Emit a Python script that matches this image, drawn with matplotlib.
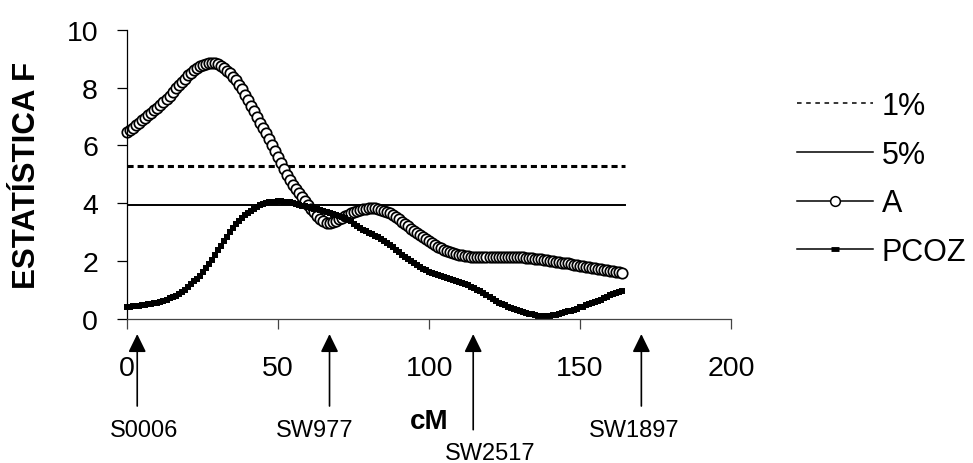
import numpy as np
import matplotlib
matplotlib.use("Agg")
import matplotlib.pyplot as plt
import matplotlib.transforms as mtransforms
from matplotlib.lines import Line2D

plt.rcParams['font.family'] = ['Liberation Sans', 'DejaVu Sans']

# position along the chromosome (cM), one point per cM
cm = list(range(0, 165))

# F statistic, trait A
a_vals = [6.45, 6.52, 6.60, 6.69, 6.78, 6.87, 6.96, 7.05, 7.13, 7.21,
          7.30, 7.40, 7.50, 7.61, 7.72, 7.84, 7.97, 8.09, 8.20, 8.31,
          8.42, 8.52, 8.60, 8.67, 8.73, 8.79, 8.83, 8.85, 8.86, 8.84,
          8.80, 8.74, 8.67, 8.59, 8.50, 8.38, 8.25, 8.10, 7.94, 7.76,
          7.58, 7.38, 7.18, 6.98, 6.78, 6.60, 6.42, 6.22, 6.02, 5.81,
          5.60, 5.39, 5.18, 4.98, 4.80, 4.64, 4.50, 4.36, 4.22, 4.08,
          3.95, 3.82, 3.70, 3.57, 3.45, 3.38, 3.33, 3.32, 3.35, 3.40,
          3.45, 3.50, 3.55, 3.61, 3.66, 3.71, 3.75, 3.78, 3.80, 3.82,
          3.84, 3.85, 3.84, 3.82, 3.78, 3.74, 3.70, 3.65, 3.60, 3.53,
          3.45, 3.37, 3.28, 3.20, 3.12, 3.05, 2.98, 2.91, 2.84, 2.77,
          2.70, 2.63, 2.56, 2.50, 2.45, 2.40, 2.36, 2.32, 2.28, 2.25,
          2.22, 2.20, 2.18, 2.17, 2.16, 2.15, 2.15, 2.15, 2.15, 2.15,
          2.15, 2.15, 2.15, 2.15, 2.15, 2.15, 2.15, 2.15, 2.14, 2.14,
          2.13, 2.13, 2.12, 2.11, 2.10, 2.09, 2.07, 2.06, 2.04, 2.03,
          2.01, 2.00, 1.98, 1.97, 1.95, 1.94, 1.92, 1.90, 1.88, 1.86,
          1.84, 1.83, 1.81, 1.79, 1.77, 1.75, 1.73, 1.72, 1.70, 1.68,
          1.66, 1.65, 1.63, 1.62, 1.60]

# F statistic, trait PCOZ
pcoz_vals = [0.43, 0.43, 0.44, 0.45, 0.46, 0.47, 0.49, 0.51, 0.53, 0.55,
             0.57, 0.60, 0.63, 0.67, 0.71, 0.75, 0.80, 0.86, 0.93, 1.01,
             1.10, 1.20, 1.30, 1.40, 1.50, 1.62, 1.75, 1.90, 2.05, 2.21,
             2.38, 2.54, 2.70, 2.85, 3.00, 3.14, 3.28, 3.40, 3.50, 3.60,
             3.68, 3.75, 3.82, 3.88, 3.93, 3.97, 4.00, 4.03, 4.05, 4.06,
             4.07, 4.07, 4.06, 4.05, 4.03, 4.01, 3.98, 3.95, 3.92, 3.90,
             3.87, 3.85, 3.82, 3.79, 3.76, 3.73, 3.70, 3.67, 3.64, 3.61,
             3.57, 3.53, 3.48, 3.43, 3.38, 3.30, 3.22, 3.15, 3.08, 3.03,
             2.98, 2.93, 2.88, 2.83, 2.78, 2.71, 2.64, 2.56, 2.48, 2.40,
             2.32, 2.23, 2.15, 2.07, 2.00, 1.93, 1.86, 1.79, 1.73, 1.68,
             1.64, 1.60, 1.56, 1.52, 1.49, 1.45, 1.42, 1.38, 1.35, 1.31,
             1.28, 1.24, 1.20, 1.16, 1.12, 1.07, 1.02, 0.96, 0.90, 0.83,
             0.76, 0.69, 0.62, 0.57, 0.52, 0.47, 0.43, 0.39, 0.36, 0.32,
             0.29, 0.25, 0.22, 0.19, 0.16, 0.14, 0.12, 0.11, 0.10, 0.10,
             0.11, 0.13, 0.15, 0.17, 0.20, 0.23, 0.26, 0.29, 0.32, 0.36,
             0.40, 0.43, 0.47, 0.51, 0.55, 0.59, 0.63, 0.67, 0.72, 0.77,
             0.82, 0.86, 0.91, 0.95, 0.98]

# significance thresholds
thr_1 = 5.30
thr_5 = 3.94
thr_range = [0, 165]

# markers on the map
markers = ['S0006', 'SW977', 'SW2517', 'SW1897']
marker_pos = [3.3, 67, 114.6, 170.3]
marker_label_x = [5.5, 62.2, 120.3, 167.8]

fig = plt.figure(figsize=(9.73, 4.64), dpi=100)
ax = fig.add_axes([0.1308, 0.3103, 0.6205, 0.6235])

ax.plot(thr_range, [thr_1, thr_1], color='black', lw=2.2, dashes=(2, 1.3))
ax.plot(thr_range, [thr_5, thr_5], color='black', lw=1.4)
ax.plot(cm, a_vals, color='black', lw=1, marker='o', ms=7.5,
        mfc='white', mec='black', mew=1.25, clip_on=False)
ax.plot(cm, pcoz_vals, color='black', lw=1, marker='_', ms=5,
        mew=4.3, clip_on=False)

ax.set_xlim(0, 200)
ax.set_ylim(0, 10)
ax.set_xticks([0, 50, 100, 150, 200])
ax.set_yticks([0, 2, 4, 6, 8, 10])
ax.spines['top'].set_visible(False)
ax.spines['right'].set_visible(False)
ax.spines['left'].set_linewidth(0.9)
ax.spines['bottom'].set_linewidth(0.9)
ax.spines['bottom'].set_color('#444444')
ax.tick_params(axis='x', length=7, width=0.9, pad=19, labelsize=20.5,
               color='#444444')
ax.tick_params(axis='y', length=7, width=0.9, pad=14, labelsize=20.5)

ax.text(-0.166, 0.5, 'ESTATÍSTICA F', transform=ax.transAxes,
        rotation=90, ha='center', va='center', fontsize=22.5,
        fontweight='bold')
ax.text(0.5, -0.3526, 'cM', transform=ax.transAxes, ha='center',
        va='center', fontsize=20, fontweight='bold')

trans = mtransforms.blended_transform_factory(ax.transData, ax.transAxes)
for i, name in enumerate(markers):
    tail = -0.3826 if name == 'SW2517' else -0.3007
    lab_y = -0.4632 if name == 'SW2517' else -0.3837
    ax.annotate('', xy=(marker_pos[i], -0.052), xycoords=trans,
                xytext=(marker_pos[i], tail), textcoords=trans,
                annotation_clip=False,
                arrowprops=dict(arrowstyle='-|>,head_length=0.55,head_width=0.27',
                                mutation_scale=20, lw=1.2, color='black',
                                shrinkA=0, shrinkB=0))
    ax.text(marker_label_x[i], lab_y, name, transform=trans,
            ha='center', va='center', fontsize=17)

# legend entries, drawn thinner than the plotted lines like the original
handles = [
    Line2D([], [], color='black', lw=1.1, dashes=(3, 3)),
    Line2D([], [], color='black', lw=1.1),
    Line2D([], [], color='black', lw=1.1, marker='o', ms=7,
           mfc='white', mec='black', mew=1.1),
    Line2D([], [], color='black', lw=1.1, marker='_', ms=6, mew=3.5),
]
fig.legend(handles, ['1%', '5%', 'A', 'PCOZ'], loc='upper left',
           bbox_to_anchor=(797 / 973, 1 - 92 / 464), frameon=False,
           fontsize=22, handlelength=2.48, handletextpad=0.3,
           labelspacing=0.61, borderpad=0, borderaxespad=0)

fig.savefig('out.png', dpi=100)
